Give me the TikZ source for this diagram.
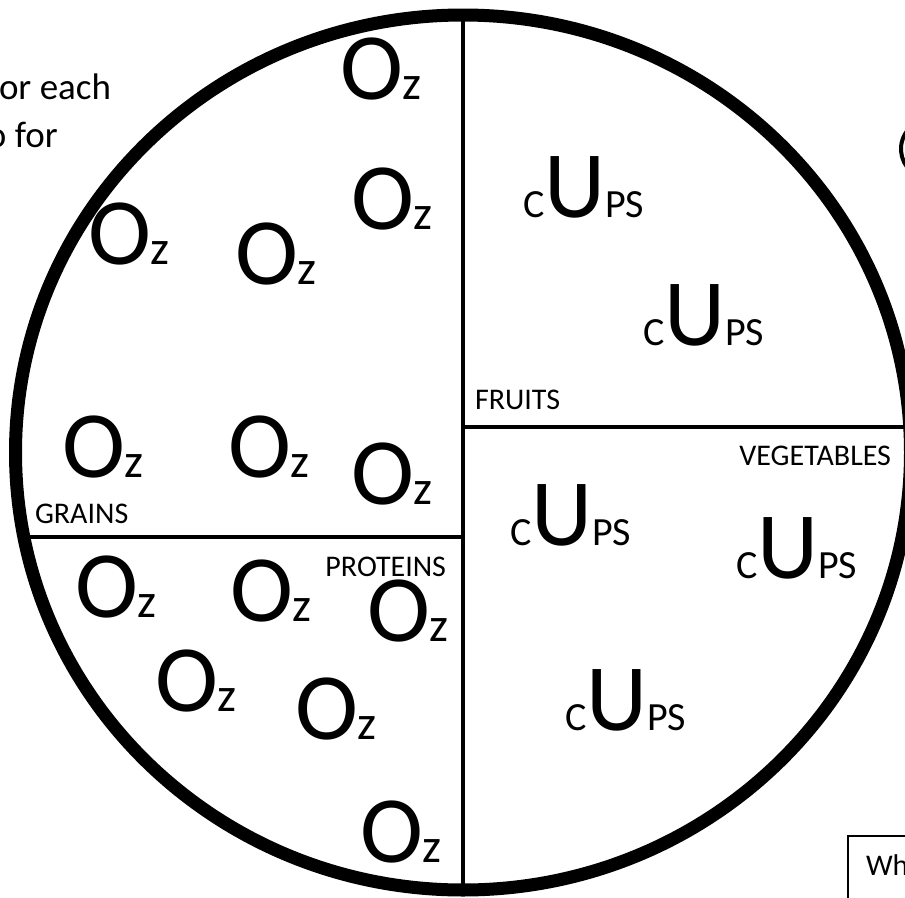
\documentclass[tikz,border=0pt]{standalone}
\usepackage{fontspec}
\setmainfont{Carlito}

\newcommand\ozmark{{\fontsize{95}{95}\selectfont O}{\fontsize{48}{48}\selectfont z}}
\newcommand\cupmark{{\fontsize{40}{40}\selectfont C}{\fontsize{95}{95}\selectfont U}{\fontsize{40}{40}\selectfont PS}}

\begin{document}
\begin{tikzpicture}[
          x=1pt, y=-1pt,
          every node/.style={inner sep=0pt, outer sep=0pt},
          oz/.style={anchor=base west},
          cup/.style={anchor=base west},
          group/.style={font=\fontsize{30}{30}\selectfont},
          note/.style={anchor=base west, font=\fontsize{37}{45}\selectfont},
          rim/.style={line width=13pt},
          divider/.style={line width=3.5pt}
        ]
        \useasboundingbox (0,0) rectangle (905,897);
        \clip (0,0) rectangle (905,897);

        % text cut off at the left
        \node[note] (note1) at (-1,99) {or each};
        \node[note] (note2) at (-13,147) {o for};

        % plate
        \coordinate (plate) at (463,452.5);
        \coordinate (top) at (463,15);
        \coordinate (bottom) at (463,890);
        \coordinate (midr) at (463,427);
        \coordinate (rimr) at (910,427);
        \coordinate (midl) at (463,537);
        \coordinate (riml) at (24,537);
        \draw[divider] (top) -- (bottom);
        \draw[divider] (midr) -- (rimr);
        \draw[divider] (midl) -- (riml);
        \draw[rim] (plate) ellipse [x radius=447.5, y radius=437.5];

        % grains
        \node[oz] (o1) at (340,99) {\ozmark};
        \node[oz] (o2) at (351,229) {\ozmark};
        \node[oz] (o3) at (88,264) {\ozmark};
        \node[oz] (o4) at (235,284) {\ozmark};
        \node[oz] (o5) at (62,477) {\ozmark};
        \node[oz] (o6) at (228,477) {\ozmark};
        \node[oz] (o7) at (351,504) {\ozmark};
        \node[group, anchor=base west] (grains) at (35,523) {GRAINS};

        % proteins
        \node[group, anchor=base east] (proteins) at (446,576) {PROTEINS};
        \node[oz] (o8) at (75,617) {\ozmark};
        \node[oz] (o9) at (230,621) {\ozmark};
        \node[oz] (o10) at (367,641) {\ozmark};
        \node[oz] (o11) at (155,711) {\ozmark};
        \node[oz] (o12) at (295,739) {\ozmark};
        \node[oz] (o13) at (360,862) {\ozmark};

        % fruits
        \node[cup] (c1) at (523,217) {\cupmark};
        \node[cup] (c2) at (643,345) {\cupmark};
        \node[group, anchor=base west] (fruits) at (475,409) {FRUITS};

        % vegetables
        \node[group, anchor=base east] (vegetables) at (891,465) {VEGETABLES};
        \node[cup] (c3) at (510,545) {\cupmark};
        \node[cup] (c4) at (736,578) {\cupmark};
        \node[cup] (c5) at (565,730) {\cupmark};

        % cut off at the right
        \coordinate (lid) at (916,175);
        \draw[line width=4pt] (lid) arc[start angle=120, end angle=240, radius=30];
        \node[draw, line width=1.5pt, minimum width=80pt, minimum height=90pt, anchor=north west] (box) at (848,836) {};
        \node[group, anchor=base west] (boxtext) at (866,875) {Wh};
\end{tikzpicture}
\end{document}
